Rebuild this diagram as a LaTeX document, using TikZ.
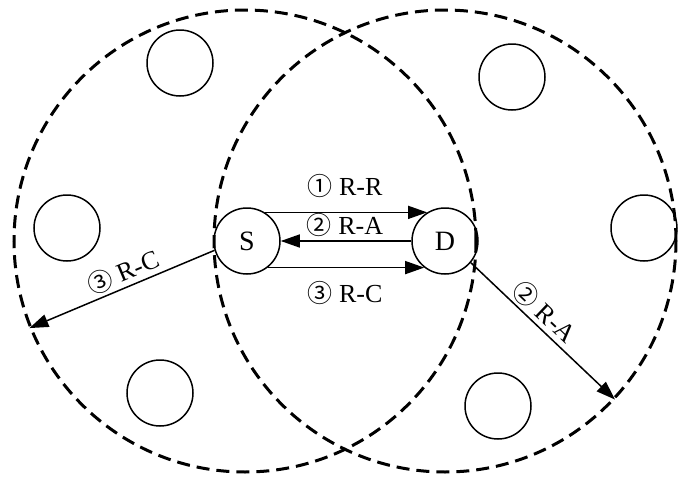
\documentclass[tikz,border=0pt]{standalone}
\usepackage{fontspec}
\setmainfont{Liberation Serif}
\newfontfamily\symfont{Noto Sans CJK SC}
\usetikzlibrary{arrows.meta}
\newcommand{\cnum}[1]{{\symfont\fontsize{25}{28}\selectfont #1}}
\begin{document}
\begin{tikzpicture}[x=1pt,y=-1pt,
  big/.style={circle,draw,dash pattern=on 13pt off 7pt,line width=3pt,minimum size=462pt,inner sep=0pt},
  host/.style={circle,draw,line width=1.5pt,minimum size=66pt,inner sep=0pt,font=\fontsize{28}{32}\selectfont},
  msg/.style={line width=1.5pt,-{Triangle[length=19pt,width=13pt]}},
  lab/.style={font=\fontsize{26}{30}\selectfont,inner sep=2pt}]
\useasboundingbox (0,0) rectangle (681,477);
\node[big] (BL) at (245,241) {};
\node[big] (BR) at (445,241) {};
\node[host] (S) at (247,241) {S};
\node[host] (D) at (445,241) {D};
\node[host] (n1) at (180,63) {};
\node[host] (n2) at (67,228) {};
\node[host] (n3) at (160,393) {};
\node[host] (n4) at (512,77) {};
\node[host] (n5) at (644,228) {};
\node[host] (n6) at (498,406) {};
\draw[msg] (S.58) -- (D.122);
\draw[msg] (D.180) -- (S.0);
\draw[msg] (S.-52) -- (D.-128);
\node[lab] (l1) at (345,186) {\cnum{①} R-R};
\node[lab] (l2) at (345,225) {\cnum{②} R-A};
\node[lab] (l3) at (345,293) {\cnum{③} R-C};
\coordinate (tl) at (BL.202.7);
\coordinate (tr) at (BR.-43.8);
\draw[msg] (S.196) -- (tl) node[lab,pos=.46,sloped,above=1pt] (l4) {\cnum{③} R-C};
\draw[msg] (D.-40) -- (tr) node[lab,pos=.44,sloped,above=1pt] (l5) {\cnum{②} R-A};
\end{tikzpicture}
\end{document}
